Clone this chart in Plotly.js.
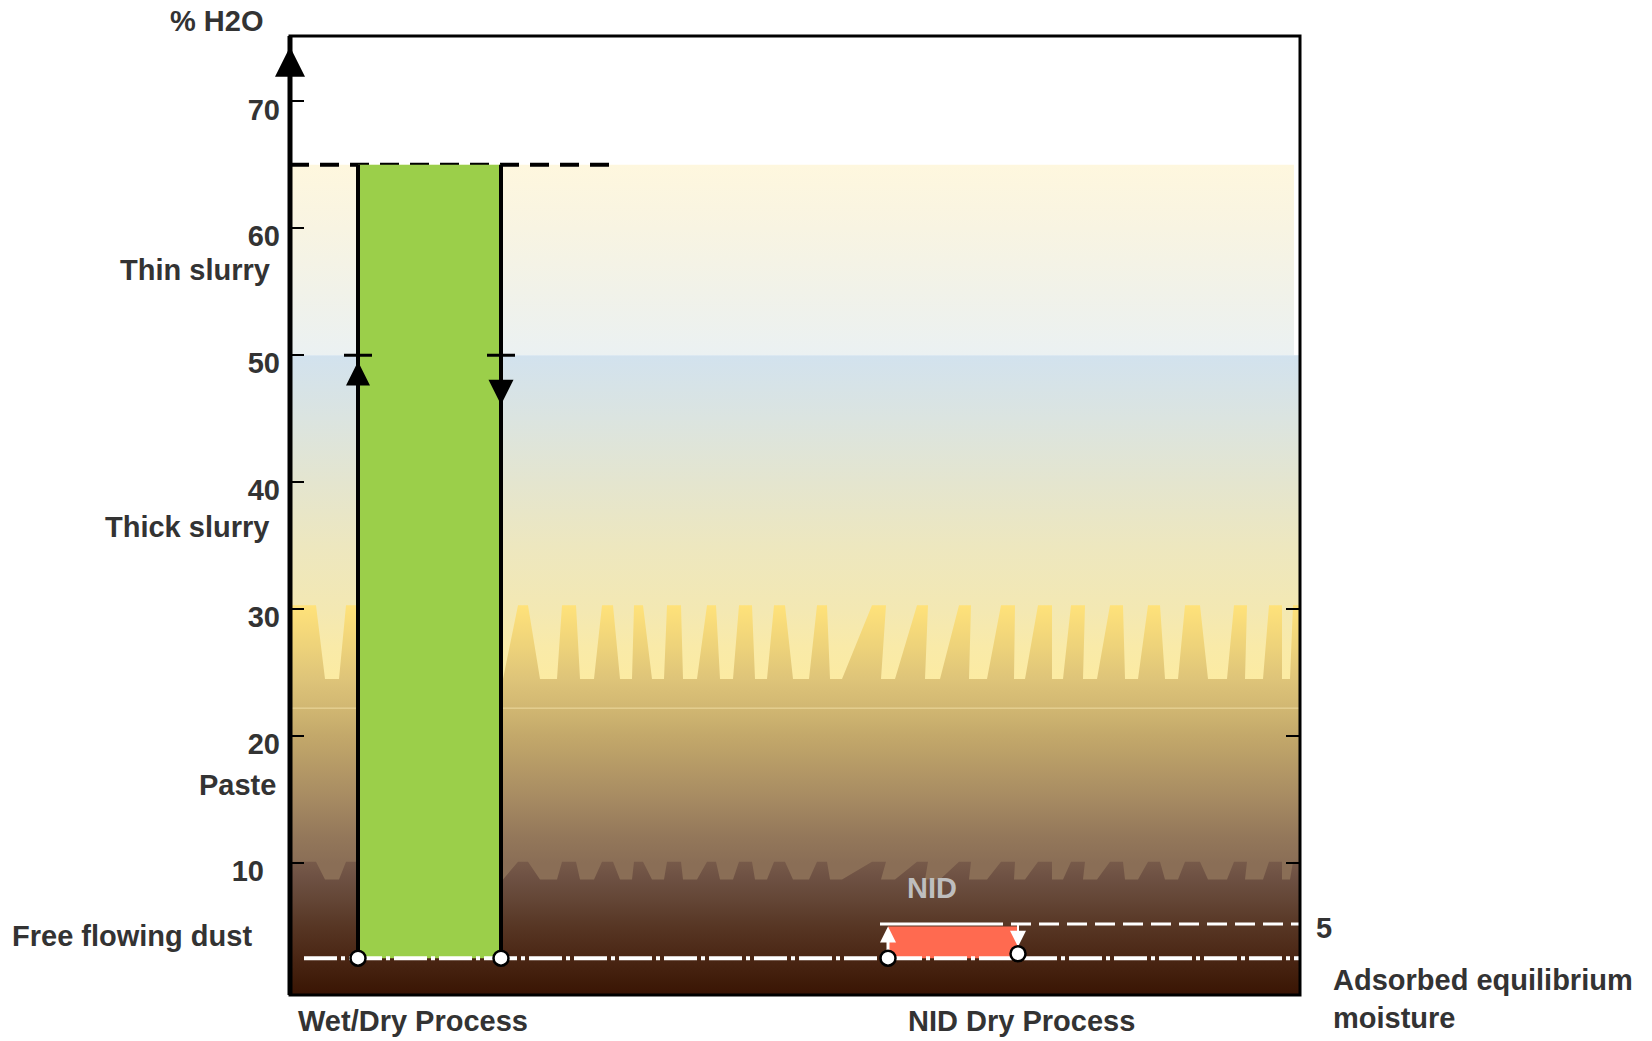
<!DOCTYPE html>
<html><head><meta charset="utf-8">
<script src="https://cdn.plot.ly/plotly-3.0.1.min.js"></script>
<style>html,body{margin:0;padding:0;background:#fff}#chart{width:1652px;height:1041px}</style>
</head><body><div id="chart"></div>
<script>
// ---------------- data ----------------
const processes = ['Wet/Dry Process', 'NID Dry Process'];
const moistureLow = [2.5, 2.5];          // % H2O, bottom of each process range
const moistureHigh = [65, 5];            // % H2O, top of each process range
const slurryLimit = 50;                  // arrows on the wet/dry range
const equilibriumMoisture = 2.5;         // adsorbed equilibrium moisture line
const nidLimit = 5;                      // NID upper moisture line
const yTickVals = [10, 20, 30, 40, 50, 60, 70];
const yTickText = ['10\u00a0\u00a0', '20', '30', '40', '50', '60', '70'];
const rightTickVals = [10, 20, 30];
const zoneNames = ['Thin slurry', 'Thick slurry', 'Paste', 'Free flowing dust'];
const zoneTops = [65, 50, 30.3, 10.1];   // upper limit of each consistency zone
const toothBases = [24.5, 8.7];          // base of the serrated transitions

// ---------------- layout helpers (positions / styles) ----------------
const W = 1652, H = 1041;
const M = {l: 290, r: 352, t: 36, b: 46};
const X_RANGE = [0, 1010];
const Y_RANGE = [-0.4, 75.15];
const barCenter = [139.5, 663];
const barWidth = [143, 130];
const pw = W - M.l - M.r, ph = H - M.t - M.b;
const px2paperX = p => (p - M.l) / pw;
const px2paperY = p => (H - M.b - p) / ph;
// serration teeth [bottomLeft, topLeft, topRight, bottomRight] (decorative)
const teeth = [[0,0,26,35],[49,56,75,80],[213,228,238,250],[267,272,286,290],[304,312,323,330],
  [342,344,353,362],[374,377,391,393],[407,417,426,430],[443,449,462,465],[477,484,495,503],
  [519,527,537,540],[552,582,596,591],[605,627,638,635],[650,669,681,679],[697,711,725,724],
  [735,748,762,762],[773,781,795,793],[807,820,833,835],[848,858,870,875],[888,895,910,918],
  [937,944,957,955],[973,979,992,992],[1000,1003,1010,1010]];

function grad(stops) {
  const s = stops[0][0], e = stops[stops.length - 1][0];
  return {type: 'vertical', start: s, stop: e,
    colorscale: stops.map(d => [(d[0] - s) / (e - s), d[1]])};
}
function rectXY(x0, x1, y0, y1) { return {x: [x0, x1, x1, x0, x0], y: [y0, y0, y1, y1, y0]}; }
function serrated(base, top, bottom) {
  const x = [], y = [];
  teeth.forEach(t => { x.push(t[0], t[1], t[2], t[3]); y.push(base, top, top, base); });
  x.push(X_RANGE[1], X_RANGE[1], X_RANGE[0], X_RANGE[0]);
  y.push(base, bottom, bottom, base);
  return {x, y};
}
function poly(xy, fg, extra) {
  return Object.assign({type: 'scatter', mode: 'lines', x: xy.x, y: xy.y, fill: 'toself',
    fillgradient: fg, line: {width: 0, color: 'rgba(0,0,0,0)'}, hoverinfo: 'skip', showlegend: false}, extra || {});
}
function seg(x, y, color, width, dash) {
  return {type: 'scatter', mode: 'lines', x, y, line: {color, width, dash: dash || 'solid'},
    hoverinfo: 'skip', showlegend: false, cliponaxis: false};
}
function mk(x, y, symbol, size, color, lineColor, lineWidth) {
  return {type: 'scatter', mode: 'markers', x, y, cliponaxis: false, hoverinfo: 'skip', showlegend: false,
    marker: {symbol, size, color, line: {color: lineColor || color, width: lineWidth || 0}}};
}

const x0s = barCenter.map((c, i) => c - barWidth[i] / 2);
const x1s = barCenter.map((c, i) => c + barWidth[i] / 2);
const traces = [];

// background consistency zones
traces.push(poly(rectXY(0, 1004, zoneTops[1], zoneTops[0]),
  grad([[zoneTops[1], '#EBF1F2'], [55, '#F1F2E9'], [60, '#F8F4E2'], [zoneTops[0], '#FEF7DE']])));
traces.push(poly(rectXY(X_RANGE[0], X_RANGE[1], toothBases[0] - 0.5, zoneTops[1]),
  grad([[toothBases[0] - 0.5, '#FCEBA1'], [27, '#F9EAA8'], [30, '#F3E8B3'], [35, '#EDE7BF'],
        [40, '#E4E5CF'], [45, '#DBE4E0'], [zoneTops[1], '#D2E2EE']])));
traces.push(poly(serrated(toothBases[0], zoneTops[2], Y_RANGE[0]),
  grad([[Y_RANGE[0], '#8A6E56'], [10, '#8A6E56'], [12, '#93775A'], [15, '#A68A62'], [20, '#C3A86A'],
        [22.2, '#D1B772'], [toothBases[0], '#DEC479'], [27, '#EDD27A'], [zoneTops[2], '#FFE27A']])));
traces.push(seg([X_RANGE[0], X_RANGE[1]], [22.2, 22.2], 'rgba(245,228,170,0.8)', 1));
traces.push(poly(serrated(toothBases[1], zoneTops[3], Y_RANGE[0]),
  grad([[Y_RANGE[0], '#3A1404'], [0.5, '#3E1A08'], [2.5, '#4A2614'], [5, '#573624'], [7, '#634535'],
        [toothBases[1], '#6D5042'], [zoneTops[3], '#775A4A']])));

// top dashed limit of the wet/dry range
traces.push(seg([0, 327], [moistureHigh[0], moistureHigh[0]], '#000', 4, '19px,11px'));

// Wet/Dry process range
traces.push(poly(rectXY(x0s[0], x1s[0], moistureLow[0], moistureHigh[0]), null,
  {fillcolor: '#9BCF4A', fillgradient: undefined}));
traces.push(seg([x0s[0], x0s[0]], [moistureLow[0], moistureHigh[0]], '#000', 4));
traces.push(seg([x1s[0], x1s[0]], [moistureLow[0], moistureHigh[0]], '#000', 4));
traces.push(seg([x0s[0] - 14, x0s[0] + 14], [slurryLimit, slurryLimit], '#000', 3));
traces.push(seg([x1s[0] - 14, x1s[0] + 14], [slurryLimit, slurryLimit], '#000', 3));
traces.push(mk([x0s[0]], [slurryLimit - 0.5], 'arrow-up', 24, '#000'));
traces.push(mk([x1s[0]], [slurryLimit - 3.9], 'arrow-down', 25, '#000'));

// NID process range
traces.push(poly(rectXY(x0s[1], x1s[1], moistureLow[1], moistureHigh[1]), null,
  {fillcolor: '#FF6A50', fillgradient: undefined}));
traces.push(seg([x0s[1] - 8, x0s[1] + 95], [nidLimit + 0.2, nidLimit + 0.2], '#FFFFFF', 3));
traces.push(seg([x0s[1] + 95, X_RANGE[1]], [nidLimit + 0.2, nidLimit + 0.2], '#FFFFFF', 3, '20px,8px'));
traces.push(seg([x0s[1], x0s[1]], [moistureLow[1], 4.0], '#FFFFFF', 3));
traces.push(seg([x1s[1], x1s[1]], [4.5, nidLimit + 0.2], '#FFFFFF', 2));
traces.push(mk([x0s[1]], [nidLimit], 'arrow-up', 16, '#FFFFFF'));
traces.push(mk([x1s[1]], [3.4], 'arrow-down', 16, '#FFFFFF'));

// adsorbed equilibrium moisture line
traces.push(seg([14, X_RANGE[1]], [equilibriumMoisture, equilibriumMoisture], '#FFFFFF', 4, '33px,4px,4px,4px'));

// end circles
traces.push(mk([x0s[0], x1s[0], x0s[1], x1s[1]], [moistureLow[0], moistureLow[0], moistureLow[1], moistureLow[1] + 0.35],
  'circle', 15, '#FFFFFF', '#000', 2.5));

// axis arrow
traces.push(mk([0], [74.3], 'arrow-up', 30, '#000'));

const tf = {family: 'Liberation Sans, Arial, sans-serif', size: 29, color: '#333333', weight: 'bold'};
const zoneLabelRight = [272, 271, 278, 254];
const zoneLabelY = [270, 527, 785, 936];
const annotations = zoneNames.map((n, i) => ({text: n, xref: 'paper', yref: 'paper',
  x: px2paperX(zoneLabelRight[i]), y: px2paperY(zoneLabelY[i]), xanchor: 'right', yanchor: 'middle',
  showarrow: false, font: tf}));
annotations.push({text: '% H2O', xref: 'paper', yref: 'paper', x: px2paperX(216), y: px2paperY(21),
  xanchor: 'center', yanchor: 'middle', showarrow: false, font: tf});
annotations.push({text: processes[0], xref: 'paper', yref: 'paper', x: px2paperX(296), y: px2paperY(1021),
  xanchor: 'left', yanchor: 'middle', showarrow: false, font: tf});
annotations.push({text: processes[1], xref: 'paper', yref: 'paper', x: px2paperX(906), y: px2paperY(1021),
  xanchor: 'left', yanchor: 'middle', showarrow: false, font: tf});
annotations.push({text: String(nidLimit), xref: 'paper', yref: 'paper', x: px2paperX(1314), y: px2paperY(928),
  xanchor: 'left', yanchor: 'middle', showarrow: false, font: tf});
annotations.push({text: 'Adsorbed equilibrium<br>moisture', xref: 'paper', yref: 'paper', x: px2paperX(1331),
  y: px2paperY(999), xanchor: 'left', yanchor: 'middle', align: 'left', showarrow: false, font: tf});
annotations.push({text: 'NID', xref: 'x', yref: 'y', x: 642, y: 8.0, xanchor: 'center', yanchor: 'middle',
  showarrow: false, font: Object.assign({}, tf, {color: '#BEBEBE'})});

const layout = {
  width: W, height: H, margin: M, paper_bgcolor: '#ffffff', plot_bgcolor: '#ffffff', showlegend: false,
  xaxis: {range: X_RANGE, showgrid: false, zeroline: false, showticklabels: false, ticks: '', showline: false, fixedrange: true},
  yaxis: {range: Y_RANGE, showgrid: false, zeroline: false, showline: false, tickvals: yTickVals, ticktext: yTickText,
    ticks: 'inside', ticklen: 14, tickwidth: 2, tickcolor: '#000', tickfont: tf, ticklabelshift: 8, ticklabelstandoff: 9},
  yaxis2: {range: Y_RANGE, overlaying: 'y', side: 'right', showgrid: false, zeroline: false, showline: false,
    tickvals: rightTickVals, ticks: 'inside', ticklen: 14, tickwidth: 2, tickcolor: '#000', showticklabels: false},
  shapes: [
    {type: 'rect', xref: 'paper', yref: 'paper', x0: 0, x1: 1, y0: 0, y1: 1, line: {color: '#000', width: 3}, layer: 'above'},
    {type: 'line', xref: 'paper', yref: 'paper', x0: 0, x1: 0, y0: 0, y1: 1, line: {color: '#000', width: 5}, layer: 'above'}
  ],
  annotations
};
// dummy trace to activate yaxis2 ticks
traces.push({type: 'scatter', mode: 'markers', x: [0], y: [0], yaxis: 'y2', marker: {opacity: 0}, hoverinfo: 'skip', showlegend: false});

Plotly.newPlot('chart', traces, layout, {displayModeBar: false, staticPlot: true});
</script></body></html>
